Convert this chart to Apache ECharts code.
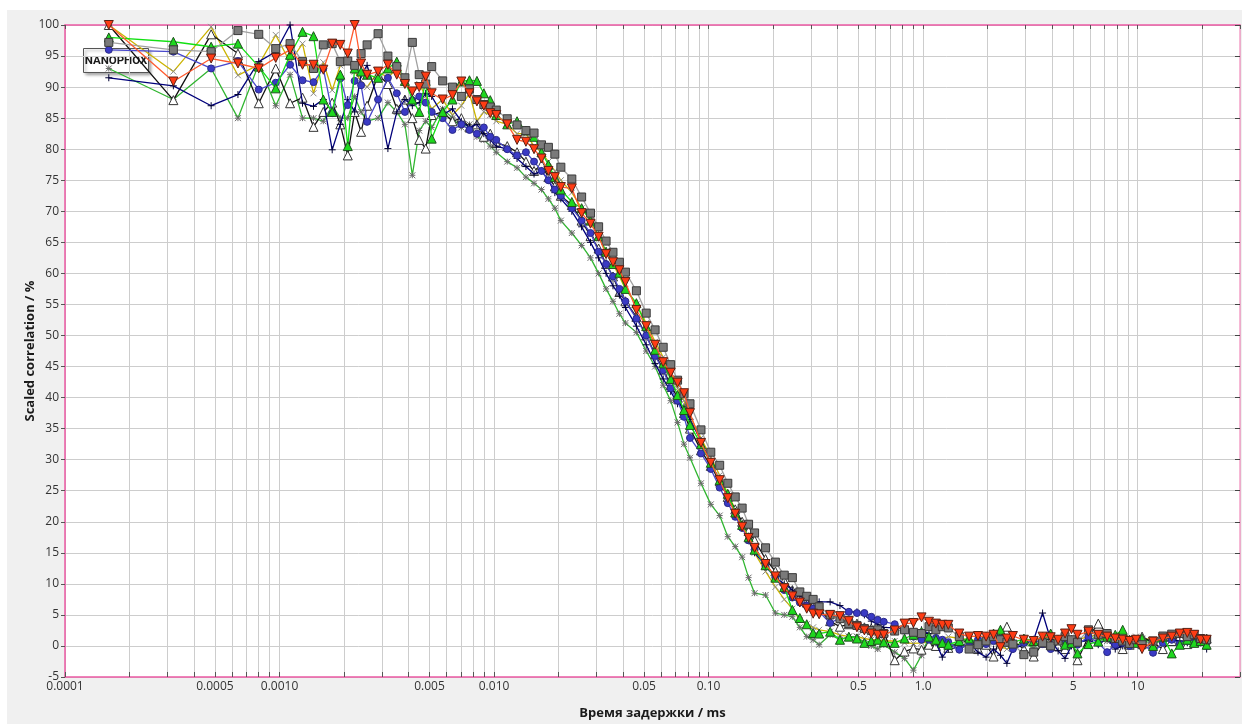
<!DOCTYPE html>
<html>
<head>
<meta charset="utf-8">
<script src="https://cdn.jsdelivr.net/npm/echarts@6/dist/echarts.min.js"></script>
<style>
html, body { margin: 0; padding: 0; background: #ffffff; width: 1242px; height: 724px; overflow: hidden; }
#chart { position: absolute; left: 7px; top: 10px; width: 1235px; height: 714px; background: #f0f0f0; }
</style>
</head>
<body>
<div id="chart"></div>
<script>
// Correlator lag times (ms): 16 linear channels, then 8 channels per doubling stage
const lagTimes = [
  0.00016, 0.00032, 0.00048, 0.00064, 0.0008, 0.00096, 0.00112, 0.00128,
  0.00144, 0.0016, 0.00176, 0.00192, 0.00208, 0.00224, 0.0024, 0.00256,
  0.00288, 0.0032, 0.00352, 0.00384, 0.00416, 0.00448, 0.0048, 0.00512,
  0.00576, 0.0064, 0.00704, 0.00768, 0.00832, 0.00896, 0.0096, 0.01024,
  0.01152, 0.0128, 0.01408, 0.01536, 0.01664, 0.01792, 0.0192, 0.02048,
  0.02304, 0.0256, 0.02816, 0.03072, 0.03328, 0.03584, 0.0384, 0.04096,
  0.04608, 0.0512, 0.05632, 0.06144, 0.06656, 0.07168, 0.0768, 0.08192,
  0.09216, 0.1024, 0.11264, 0.12288, 0.13312, 0.14336, 0.1536, 0.16384,
  0.18432, 0.2048, 0.22528, 0.24576, 0.26624, 0.28672, 0.3072, 0.32768,
  0.36864, 0.4096, 0.45056, 0.49152, 0.53248, 0.57344, 0.6144, 0.65536,
  0.73728, 0.8192, 0.90112, 0.98304, 1.06496, 1.14688, 1.2288, 1.31072,
  1.47456, 1.6384, 1.80224, 1.96608, 2.12992, 2.29376, 2.4576, 2.62144,
  2.94912, 3.2768, 3.60448, 3.93216, 4.25984, 4.58752, 4.9152, 5.24288,
  5.89824, 6.5536, 7.20896, 7.86432, 8.51968, 9.17504, 9.8304, 10.48576,
  11.79648, 13.1072, 14.41792, 15.72864, 17.03936, 18.35008, 19.6608, 20.97152
];

// Scaled correlation (%) per measurement
const grayValues = [
  97.2, 96.0, 95.7, 99.1, 98.5, 96.2, 97.0, 94.1, 93.0, 96.8, 97.0, 94.1, 94.2, 93.5, 95.4, 96.8,
  98.6, 95.0, 93.3, 91.5, 97.2, 92.0, 90.5, 93.3,
  91.0, 90.0, 88.5, 89.7, 88.0, 87.2, 86.8, 86.3,
  84.9, 83.9, 83.0, 82.6, 80.7, 80.3, 79.2, 77.1,
  75.2, 72.3, 69.7, 67.5, 65.2, 63.4, 61.8, 60.2,
  57.2, 53.6, 50.9, 48.1, 45.3, 42.8, 40.6, 39.0,
  34.8, 31.2, 29.1, 26.2, 24.0, 22.2, 19.6, 18.2,
  15.8, 13.5, 11.4, 11.0, 8.7, 8.0, 7.5, 6.3,
  5.0, 4.4, 3.6, 3.3, 2.8, 2.5, 2.6, 2.0,
  2.4, 2.6, 2.2, 2.0, 3.1, 2.6, 3.1, 2.9,
  1.5, -0.5, 0.2, 0.8, 1.5, 1.0, 0.6, 0.3,
  -1.4, -1.0, 0.5, 0.0, 0.8, 1.5, 1.0, 0.6,
  2.6, 1.8, 2.0, 1.2, 0.8, 0.4, 1.0, 0.2,
  0.8, 1.6, 1.9, 2.0, 1.5, 1.8, 1.2, 1.0
];
const redValues = [
  100, 90.9, 94.6, 93.8, 93.0, 94.7, 96.0, 93.6, 93.6, 92.8, 97.0, 96.8, 95.4, 100, 93.8, 92.0,
  92.5, 93.6, 92.0, 90.5, 89.3, 90.0, 91.7, 89.0,
  88.0, 88.7, 90.9, 89.0, 87.7, 87.0, 85.8, 85.5,
  84.0, 81.5, 81.2, 80.0, 78.5, 76.5, 75.5, 73.9,
  73.7, 69.7, 68.0, 65.9, 63.1, 61.8, 60.5, 58.6,
  54.1, 51.5, 48.5, 45.7, 44.0, 42.4, 40.7, 37.5,
  32.7, 29.5, 26.7, 23.8, 21.3, 19.2, 17.4, 15.8,
  13.2, 11.2, 9.3, 8.0, 7.0, 6.0, 5.2, 5.1,
  5.0, 4.8, 4.0, 3.0, 2.5, 2.0, 1.8, 1.8,
  2.5, 3.6, 3.7, 4.6, 3.9, 3.6, 3.4, 3.4,
  2.0, 1.5, 1.6, 1.5, 1.8, -0.2, 1.2, 1.6,
  1.0, 0.8, 1.5, 1.4, 1.0, 2.0, 2.7, 1.8,
  2.3, 1.8, 1.5, 1.2, 1.0, 0.8, 1.0, -0.5,
  0.7, 1.2, 1.5, 2.0, 2.1, 1.8, 1.0, 1.0
];
const greenValues = [
  98.0, 97.3, 96.5, 97.0, 93.3, 89.8, 95.2, 98.9, 98.2, 88.0, 86.0, 92.0, 80.5, 93.0, 92.5, 92.0,
  91.5, 93.0, 94.1, 91.0, 88.0, 86.0, 91.0, 81.7,
  86.0, 88.0, 90.9, 91.1, 91.0, 89.0, 87.9, 85.5,
  84.0, 84.5, 83.0, 82.0, 79.5, 77.5, 75.5, 73.5,
  71.5, 70.5, 68.5, 66.0, 63.5, 61.5, 60.1, 57.5,
  55.2, 51.5, 47.7, 45.5, 43.0, 40.4, 38.0, 35.6,
  32.5, 29.5, 26.7, 24.5, 21.5, 19.5, 17.5, 15.5,
  13.0, 11.0, 9.5, 5.8, 4.5, 3.5, 2.1, 2.0,
  2.3, 1.0, 1.5, 1.2, 0.5, 0.8, 1.0, 0.6,
  0.5, 1.2, 1.8, 2.3, 1.5, 1.0, 0.5, 0.2,
  0.8, 1.2, 0.5, 1.5, 2.0, 2.6, 1.0, 0.5,
  1.2, 0.8, 1.5, 2.0, 1.0, 0.2, 0.5, -1.2,
  0.3, 0.7, 1.5, 1.8, 2.6, 1.0, 0.5, 1.2,
  0.0, 1.5, -1.2, 0.2, 1.0, 0.5, 0.8, 0.2
];
const blueValues = [
  96.0, 95.7, 93.0, 94.2, 89.6, 90.7, 93.6, 91.1, 90.8, 93.0, 85.8, 91.4, 87.1, 91.0, 90.3, 84.4,
  88.0, 91.5, 89.0, 86.0, 87.9, 88.5, 87.5, 86.0,
  85.0, 83.1, 84.0, 83.1, 82.5, 83.5, 82.0, 81.5,
  80.0, 79.0, 79.5, 78.0, 76.5, 75.0, 73.5, 72.5,
  70.5, 68.5, 66.5, 63.5, 61.5, 59.5, 57.5, 55.5,
  52.7, 50.0, 46.7, 44.4, 41.5, 39.5, 36.9, 33.5,
  31.0, 28.5, 25.5, 23.0, 20.8, 19.0, 17.0, 15.5,
  12.8, 11.0, 9.0, 7.8, 7.0, 6.5, 6.0, 5.5,
  3.7, 4.5, 5.5, 5.3, 5.3, 4.7, 4.2, 3.9,
  3.5, 2.5, 1.5, 1.0, 1.0, 1.3, 1.0, 0.6,
  -0.6, 0.5, 1.0, 0.3, 0.8, 1.2, 0.5, -0.5,
  0.5, 1.0, 0.3, -0.5, 0.8, 1.0, 0.5, 0.2,
  1.5, 0.5, -1.0, 0.2, 0.5, 0.0, 0.8, 0.5,
  -1.1, 0.5, 1.0, 0.3, 0.8, 0.5, 1.0, 0.6
];
const navyValues = [
  91.5, 90.2, 87.0, 88.8, 94.1, 95.7, 100, 87.4, 86.9, 88.0, 79.9, 84.0, 88.0, 86.0, 92.0, 93.5,
  88.0, 80.1, 86.0, 88.0, 87.0, 87.5, 89.0, 88.5,
  85.5, 86.5, 84.5, 83.5, 84.0, 82.5, 81.5, 80.5,
  80.0, 78.5, 77.2, 76.0, 76.5, 75.0, 73.0, 72.0,
  70.0, 67.5, 65.0, 62.5, 60.0, 58.0, 56.5, 54.5,
  51.5, 48.5, 45.5, 43.0, 41.0, 39.0, 38.5, 36.5,
  33.0, 29.5, 26.5, 24.0, 21.5, 19.5, 17.0, 15.0,
  13.0, 11.0, 10.0, 9.0, 8.0, 7.5, 7.0, 7.1,
  7.1, 6.5, 5.5, 5.5, 5.0, 4.0, 3.5, 3.0,
  2.9, 2.8, 2.6, 2.6, 2.0, 0.5, -1.8, -0.5,
  -0.2, 0.5, -1.0, -1.8, -0.5, -1.5, -2.8, -0.5,
  0.2, 1.0, 5.3, 1.0, -0.8, -2.0, 0.0, 0.5,
  1.0, 0.2, 1.2, -0.5, 0.0, 0.8, 0.5, -0.3,
  0.5, 1.5, 1.0, 0.8, 0.5, 1.2, 0.5, -0.5
];
const blackValues = [
  100, 87.9, 98.5, 95.4, 87.4, 93.0, 87.4, 88.3, 83.6, 86.0, 87.5, 84.0, 79.0, 86.0, 82.8, 87.0,
  92.0, 90.5, 86.5, 88.0, 85.0, 81.5, 80.1, 85.5,
  86.0, 84.5, 85.0, 83.5, 84.0, 82.0, 82.5, 81.0,
  80.5, 79.5, 78.0, 76.5, 77.5, 75.5, 74.0, 72.5,
  71.0, 68.5, 66.0, 64.0, 61.5, 59.5, 57.0, 55.5,
  53.0, 50.0, 47.0, 44.5, 42.0, 40.0, 37.5, 35.0,
  31.5, 29.0, 26.5, 24.0, 22.0, 20.0, 18.5, 17.0,
  14.0, 12.0, 10.5, 9.0, 8.0, 7.0, 6.5, 6.0,
  4.0, 3.1, 3.5, 3.6, 3.0, 2.8, 2.5, 2.3,
  -2.3, -0.9, -0.4, -0.6, 0.2, 0.0, 0.5, -0.3,
  0.5, 1.0, -0.5, 0.2, -1.7, 1.5, 3.1, 0.8,
  -0.5, -1.7, 0.5, 0.2, 0.0, -0.5, 1.0, -2.3,
  1.5, 3.6, 2.0, 0.5, -0.5, 0.2, 0.8, 1.5,
  0.5, -0.5, 0.8, 1.5, 0.3, 0.6, 1.0, 1.2
];
const yellowValues = [
  100, 92.5, 99.7, 91.9, 93.6, 98.4, 94.0, 97.0, 89.0, 94.0, 89.5, 93.5, 95.0, 92.5, 91.0, 90.0,
  92.5, 91.5, 93.0, 91.0, 89.0, 90.5, 88.5, 86.5,
  88.0, 85.5, 87.0, 89.0, 84.5, 86.0, 85.5, 84.5,
  84.0, 82.5, 82.5, 80.5, 79.5, 78.0, 76.5, 75.0,
  73.0, 70.5, 68.5, 66.0, 63.5, 61.5, 59.5, 57.5,
  55.0, 52.0, 49.0, 46.5, 44.0, 41.5, 39.5, 37.0,
  33.5, 30.4, 27.5, 24.5, 22.0, 19.5, 17.0, 15.0,
  12.0, 9.5, 7.5, 6.0, 4.2, 3.5, 3.0, 2.6,
  2.3, 1.8, 1.5, 1.5, 1.2, 1.0, 1.0, 0.8,
  0.8, 0.5, 0.4, 0.5, 0.6, 0.8, 1.0, 1.5,
  1.2, 1.0, 0.8, 1.2, 0.5, 0.0, -0.5, 0.0,
  0.5, 0.2, 0.8, 0.5, 0.6, 1.0, 0.5, 1.0,
  1.5, 1.8, 1.2, 1.0, 0.8, 1.0, 1.5, 1.2,
  1.0, 0.8, 1.5, 1.2, 1.0, 1.5, 1.2, 1.0
];
const darkGreenValues = [
  93.0, 88.0, 93.0, 85.0, 93.7, 87.0, 92.0, 85.0, 85.0, 84.5, 87.0, 85.0, 85.0, 88.5, 86.0, 84.5,
  85.0, 87.5, 86.0, 84.0, 75.8, 83.0, 84.5, 83.5,
  86.5, 85.0, 83.5, 84.0, 82.0, 81.5, 80.5, 79.5,
  78.0, 77.0, 75.5, 74.5, 73.5, 72.0, 70.5, 68.5,
  66.5, 64.5, 62.5, 60.0, 57.5, 55.5, 53.5, 52.0,
  50.5, 47.5, 45.0, 42.0, 39.5, 36.0, 32.5, 30.3,
  26.2, 22.8, 21.0, 17.6, 16.0, 14.3, 11.0, 8.5,
  8.2, 5.3, 5.0, 4.7, 3.0, 1.5, 1.0, 0.2,
  1.8, 1.0, 1.5, 1.5, 0.5, 0.0, -0.5, 0.2,
  -1.0, -2.0, -3.9, -1.5, 1.5, 0.5, 0.8, 0.0,
  0.5, 1.0, 0.2, 1.5, 2.0, 0.5, 1.0, 0.0,
  0.5, -0.3, 0.8, 1.2, 0.5, 1.0, 0.2, 0.5,
  1.0, 1.5, 0.8, 0.5, 1.2, 0.0, 0.5, 1.0,
  0.8, 0.5, 1.2, 0.5, 0.8, 1.0, 0.5, 0.8
];

// Labelled ticks of the lag-time axis
const xLabelValues = [0.0001, 0.0005, 0.001, 0.005, 0.01, 0.05, 0.1, 0.5, 1, 5, 10];
const xLabelTexts = ['0.0001', '0.0005', '0.0010', '0.005', '0.010', '0.05', '0.10', '0.5', '1.0', '5', '10'];

const X_MIN = 0.0001, X_MAX = 30;
const Y_MIN = -5, Y_MAX = 100, Y_STEP = 5;

// Grid lines at 1..9 of every decade
const xGridValues = [];
for (let e = -4; e <= 1; e++) {
  for (let m = 1; m <= 9; m++) {
    const v = +(m * Math.pow(10, e)).toPrecision(6);
    if (v <= X_MAX) xGridValues.push(v);
  }
}

const FONT = '"Open Sans", "Noto Sans", sans-serif';
const PINK = '#ec5aa4';
const GRID = '#cdcdcd';

// Marker outlines
const SYM_DOWN = 'path://M0,0L10,0L5,9Z';
const SYM_PLUS = 'path://M5,0L5,10M0,5L10,5';
const SYM_CROSS = 'path://M0,0L10,10M10,0L0,10';
const SYM_STAR = 'path://M0,0L10,10M10,0L0,10M5,0L5,10M0,5L10,5';

const seriesDefs = [
  { name: 'yellow', values: yellowValues, line: '#cbb300', symbol: SYM_CROSS, size: 6, fill: '#8a8a8a', border: '#8a8a8a' },
  { name: 'darkgreen', values: darkGreenValues, line: '#2fb52f', symbol: SYM_STAR, size: 6, fill: '#6a6a6a', border: '#6a6a6a' },
  { name: 'black', values: blackValues, line: '#111111', symbol: 'triangle', size: 9, fill: '#ffffff', border: '#333333' },
  { name: 'navy', values: navyValues, line: '#00007a', symbol: SYM_PLUS, size: 7, fill: '#000033', border: '#000033' },
  { name: 'blue', values: blueValues, line: '#4848cc', symbol: 'circle', size: 7, fill: '#3a3ac4', border: '#2a2a8a' },
  { name: 'green', values: greenValues, line: '#12e012', symbol: 'triangle', size: 9, fill: '#1ed81e', border: '#1f4f1f' },
  { name: 'gray', values: grayValues, line: '#a0a0a0', symbol: 'rect', size: 8, fill: '#7a7a7a', border: '#3a3a3a' },
  { name: 'red', values: redValues, line: '#ff5a2e', symbol: SYM_DOWN, size: 9, fill: '#ff3c14', border: '#5a2014' }
];

function xLabel(v) {
  const i = xLabelValues.findIndex(x => Math.abs(Math.log10(x) - Math.log10(v)) < 1e-6);
  return i >= 0 ? xLabelTexts[i] : '';
}

const chart = echarts.init(document.getElementById('chart'), null, { renderer: 'canvas' });

chart.setOption({
  animation: false,
  backgroundColor: 'transparent',
  textStyle: { fontFamily: FONT },
  grid: {
    left: 58, right: 2, top: 15, bottom: 47,
    show: true, backgroundColor: '#ffffff', borderWidth: 0,
    containLabel: false, outerBoundsMode: 'none'
  },
  xAxis: [
    {
      type: 'log', logBase: 10, min: X_MIN, max: X_MAX, position: 'bottom',
      axisLine: { show: true, onZero: false, lineStyle: { color: PINK, width: 1.5 } },
      axisTick: { show: true, inside: true, length: 5, customValues: xGridValues, lineStyle: { color: '#555555' } },
      axisLabel: { show: true, customValues: xLabelValues, formatter: xLabel, color: '#333333', fontSize: 12, fontFamily: FONT, margin: 4 },
      splitLine: { show: true, lineStyle: { color: GRID, width: 1 } },
      name: 'Время задержки / ms', nameLocation: 'middle', nameGap: 30, nameMoveOverlap: false,
      nameTextStyle: { fontWeight: 'bold', fontSize: 13, color: '#1a1a1a', fontFamily: FONT }
    },
    {
      type: 'log', logBase: 10, min: X_MIN, max: X_MAX, position: 'top',
      axisLine: { show: true, onZero: false, lineStyle: { color: PINK, width: 1.5 } },
      axisTick: { show: true, inside: true, length: 4, customValues: xGridValues, lineStyle: { color: '#555555' } },
      axisLabel: { show: false },
      splitLine: { show: false }
    }
  ],
  yAxis: [
    {
      type: 'value', min: Y_MIN, max: Y_MAX, interval: Y_STEP, position: 'left',
      axisLine: { show: true, onZero: false, lineStyle: { color: PINK, width: 1.5 } },
      axisTick: { show: true, inside: false, length: 4, lineStyle: { color: '#555555' } },
      axisLabel: { color: '#333333', fontSize: 12, fontFamily: FONT, margin: 6 },
      splitLine: { show: true, lineStyle: { color: GRID, width: 1 } },
      name: 'Scaled correlation / %', nameLocation: 'middle', nameGap: 28, nameRotate: 90, nameMoveOverlap: false,
      nameTextStyle: { fontWeight: 'bold', fontSize: 13, color: '#1a1a1a', fontFamily: FONT }
    },
    {
      type: 'value', min: Y_MIN, max: Y_MAX, interval: Y_STEP, position: 'right',
      axisLine: { show: true, onZero: false, lineStyle: { color: '#f4a0c8', width: 1.5 } },
      axisTick: { show: true, inside: true, length: 5, lineStyle: { color: '#444444' } },
      axisLabel: { show: false },
      splitLine: { show: false }
    }
  ],
  graphic: [
    {
      type: 'group', left: 76, top: 38,
      children: [
        {
          type: 'rect', shape: { x: 0, y: 0, width: 65, height: 24 },
          style: { fill: '#ffffff', stroke: '#555555', lineWidth: 1, shadowBlur: 3, shadowOffsetX: 2, shadowOffsetY: 2, shadowColor: 'rgba(0,0,0,0.35)' }
        },
        {
          type: 'text', x: 32.5, y: 12.5,
          style: { text: 'NANOPHOX', font: 'bold 11.5px Roboto, "Liberation Sans", sans-serif', fill: '#1a1a1a', align: 'center', verticalAlign: 'middle' }
        }
      ]
    }
  ],
  series: seriesDefs.map((d, k) => ({
    type: 'line',
    name: d.name,
    xAxisIndex: 0,
    yAxisIndex: 0,
    data: lagTimes.map((t, i) => [t, d.values[i]]),
    symbol: d.symbol,
    symbolSize: d.size,
    showSymbol: true,
    showAllSymbol: true,
    clip: false,
    z: 2 + k,
    lineStyle: { color: d.line, width: 1.3 },
    itemStyle: { color: d.fill, borderColor: d.border, borderWidth: 1 },
    emphasis: { disabled: true }
  }))
});
</script>
</body>
</html>
